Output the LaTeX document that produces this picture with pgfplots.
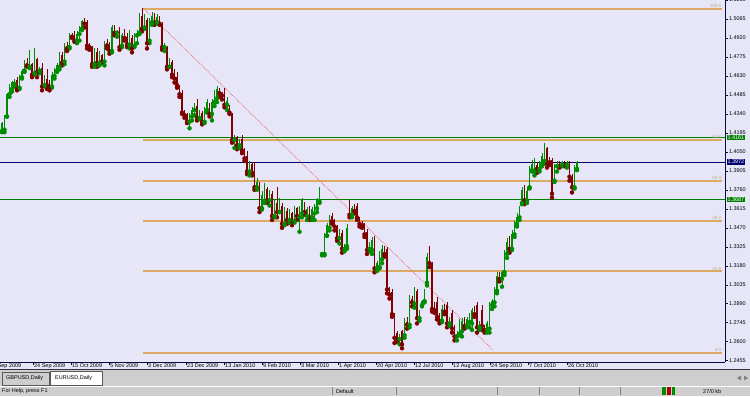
\documentclass[border=0pt]{standalone}
\usepackage{pgfplots}
\pgfplotsset{compat=1.18}
\usepackage{pgfplotstable}
\usepackage{fontspec}
\setmainfont{Liberation Sans}
\pgfdeclarelayer{background}
\pgfsetlayers{background,main}

\definecolor{chartbg}{RGB}{230,230,248}
\definecolor{bull}{RGB}{0,140,0}
\definecolor{bear}{RGB}{128,0,0}
\definecolor{fib}{RGB}{218,170,98}
\definecolor{fibtxt}{RGB}{196,166,116}
\definecolor{lvlgreen}{RGB}{0,128,0}
\definecolor{navyline}{RGB}{0,0,110}
\definecolor{axisc}{RGB}{10,10,60}
\definecolor{barbg}{RGB}{206,206,206}
\definecolor{trend}{RGB}{230,90,90}

\pgfplotstableread{
o h l c
1.421 1.428 1.420 1.427
1.422 1.433 1.420 1.432
1.432 1.450 1.432 1.449
1.449 1.457 1.447 1.455
1.453 1.459 1.451 1.458
1.457 1.461 1.455 1.459
1.460 1.462 1.452 1.453
1.454 1.464 1.453 1.462
1.462 1.468 1.461 1.467
1.467 1.475 1.466 1.474
1.473 1.477 1.470 1.471
1.470 1.483 1.469 1.480
1.472 1.473 1.462 1.464
1.465 1.484 1.464 1.478
1.476 1.477 1.462 1.466
1.467 1.470 1.465 1.468
1.469 1.473 1.452 1.455
1.456 1.464 1.455 1.460
1.461 1.468 1.453 1.456
1.456 1.460 1.452 1.454
1.455 1.466 1.454 1.464
1.463 1.469 1.461 1.467
1.467 1.473 1.466 1.471
1.470 1.481 1.468 1.479
1.479 1.481 1.471 1.473
1.474 1.488 1.472 1.486
1.486 1.489 1.482 1.484
1.485 1.496 1.484 1.494
1.494 1.496 1.492 1.493
1.494 1.497 1.489 1.490
1.490 1.497 1.488 1.495
1.495 1.501 1.490 1.499
1.499 1.506 1.498 1.505
1.505 1.507 1.500 1.503
1.504 1.506 1.484 1.486
1.486 1.488 1.483 1.485
1.485 1.486 1.470 1.472
1.472 1.484 1.470 1.481
1.481 1.484 1.470 1.473
1.473 1.482 1.471 1.479
1.479 1.480 1.473 1.474
1.474 1.490 1.471 1.488
1.488 1.491 1.484 1.486
1.486 1.489 1.480 1.482
1.482 1.502 1.481 1.500
1.500 1.502 1.494 1.496
1.496 1.498 1.493 1.497
1.498 1.500 1.483 1.485
1.486 1.496 1.485 1.494
1.494 1.499 1.490 1.492
1.493 1.496 1.485 1.487
1.487 1.498 1.484 1.495
1.492 1.494 1.481 1.484
1.486 1.496 1.485 1.494
1.494 1.498 1.488 1.496
1.496 1.511 1.495 1.509
1.509 1.515 1.497 1.499
1.500 1.510 1.499 1.508
1.506 1.507 1.484 1.488
1.490 1.507 1.488 1.504
1.504 1.512 1.502 1.509
1.509 1.511 1.502 1.504
1.504 1.510 1.503 1.508
1.508 1.509 1.502 1.503
1.503 1.504 1.483 1.485
1.485 1.488 1.482 1.486
1.485 1.486 1.468 1.470
1.470 1.477 1.470 1.474
1.474 1.475 1.462 1.464
1.464 1.468 1.458 1.461
1.462 1.466 1.454 1.456
1.455 1.456 1.447 1.449
1.450 1.452 1.434 1.435
1.435 1.437 1.431 1.433
1.434 1.435 1.427 1.428
1.428 1.435 1.423 1.433
1.432 1.439 1.429 1.437
1.437 1.442 1.433 1.440
1.440 1.445 1.429 1.431
1.431 1.437 1.430 1.435
1.435 1.436 1.426 1.428
1.428 1.439 1.427 1.437
1.437 1.445 1.435 1.443
1.441 1.442 1.432 1.434
1.434 1.445 1.429 1.443
1.443 1.452 1.440 1.450
1.446 1.455 1.443 1.453
1.453 1.454 1.447 1.450
1.450 1.451 1.445 1.448
1.450 1.454 1.439 1.441
1.441 1.447 1.437 1.444
1.440 1.441 1.434 1.435
1.434 1.435 1.412 1.414
1.414 1.418 1.408 1.416
1.416 1.417 1.407 1.410
1.410 1.415 1.408 1.413
1.415 1.418 1.404 1.406
1.406 1.408 1.398 1.400
1.402 1.406 1.388 1.390
1.390 1.398 1.387 1.396
1.396 1.397 1.387 1.389
1.392 1.397 1.376 1.378
1.378 1.385 1.376 1.382
1.381 1.382 1.359 1.362
1.362 1.375 1.361 1.372
1.367 1.381 1.366 1.378
1.377 1.378 1.366 1.368
1.368 1.376 1.364 1.373
1.373 1.375 1.353 1.356
1.356 1.368 1.355 1.365
1.366 1.378 1.355 1.359
1.359 1.370 1.359 1.367
1.364 1.366 1.347 1.350
1.350 1.363 1.349 1.360
1.360 1.362 1.350 1.353
1.353 1.361 1.351 1.358
1.358 1.359 1.349 1.352
1.352 1.364 1.351 1.362
1.362 1.363 1.353 1.356
1.355 1.364 1.344 1.362
1.358 1.370 1.355 1.368
1.366 1.367 1.357 1.359
1.356 1.363 1.353 1.361
1.361 1.364 1.353 1.355
1.355 1.363 1.353 1.361
1.358 1.365 1.353 1.362
1.362 1.370 1.359 1.368
1.367 1.378 1.366 1.376
1.327 1.328 1.326 1.327
1.327 1.343 1.326 1.340
1.341 1.351 1.341 1.349
1.347 1.357 1.345 1.355
1.356 1.358 1.350 1.352
1.352 1.354 1.345 1.348
1.348 1.349 1.337 1.339
1.339 1.346 1.335 1.343
1.343 1.345 1.328 1.331
1.331 1.335 1.329 1.333
1.333 1.350 1.331 1.347
1.367 1.368 1.355 1.357
1.357 1.364 1.355 1.362
1.362 1.365 1.358 1.360
1.364 1.366 1.353 1.355
1.354 1.355 1.348 1.350
1.350 1.352 1.347 1.349
1.350 1.351 1.340 1.342
1.344 1.346 1.327 1.330
1.331 1.336 1.329 1.334
1.330 1.340 1.327 1.338
1.339 1.341 1.313 1.316
1.316 1.322 1.314 1.320
1.317 1.329 1.316 1.327
1.323 1.334 1.320 1.331
1.331 1.333 1.325 1.327
1.331 1.332 1.297 1.300
1.300 1.302 1.293 1.296
1.298 1.300 1.279 1.281
1.281 1.282 1.259 1.263
1.267 1.268 1.260 1.262
1.262 1.266 1.258 1.264
1.268 1.269 1.255 1.258
1.265 1.278 1.263 1.275
1.275 1.279 1.270 1.273
1.273 1.296 1.271 1.293
1.293 1.295 1.287 1.290
1.289 1.302 1.286 1.300
1.299 1.300 1.274 1.278
1.278 1.284 1.276 1.282
1.288 1.292 1.287 1.291
1.291 1.300 1.290 1.298
1.305 1.328 1.303 1.325
1.330 1.333 1.317 1.320
1.320 1.321 1.283 1.285
1.286 1.290 1.282 1.284
1.290 1.294 1.277 1.279
1.279 1.282 1.274 1.276
1.276 1.288 1.275 1.285
1.285 1.289 1.281 1.283
1.288 1.290 1.271 1.274
1.274 1.279 1.272 1.277
1.282 1.284 1.267 1.270
1.270 1.273 1.261 1.264
1.264 1.268 1.261 1.266
1.266 1.277 1.265 1.275
1.268 1.278 1.264 1.276
1.276 1.279 1.270 1.272
1.272 1.279 1.271 1.277
1.275 1.282 1.271 1.280
1.274 1.286 1.269 1.284
1.284 1.287 1.279 1.281
1.288 1.290 1.267 1.271
1.271 1.276 1.269 1.274
1.284 1.288 1.269 1.272
1.272 1.273 1.267 1.269
1.269 1.276 1.267 1.274
1.270 1.290 1.267 1.288
1.288 1.293 1.285 1.291
1.290 1.302 1.287 1.300
1.299 1.313 1.297 1.310
1.310 1.313 1.306 1.308
1.308 1.315 1.302 1.313
1.313 1.330 1.311 1.327
1.327 1.339 1.324 1.336
1.336 1.341 1.328 1.331
1.331 1.345 1.330 1.342
1.342 1.352 1.340 1.350
1.350 1.358 1.348 1.355
1.355 1.364 1.353 1.362
1.366 1.378 1.365 1.376
1.376 1.380 1.365 1.368
1.368 1.378 1.366 1.375
1.378 1.394 1.377 1.391
1.391 1.399 1.390 1.396
1.390 1.400 1.387 1.397
1.395 1.397 1.389 1.392
1.392 1.398 1.390 1.396
1.396 1.404 1.394 1.402
1.398 1.412 1.396 1.409
1.408 1.409 1.393 1.396
1.400 1.401 1.395 1.397
1.399 1.400 1.370 1.373
1.383 1.396 1.382 1.394
1.394 1.398 1.390 1.396
1.396 1.398 1.393 1.394
1.395 1.398 1.394 1.397
1.397 1.398 1.394 1.395
1.395 1.398 1.393 1.397
1.397 1.398 1.383 1.386
1.386 1.388 1.374 1.378
1.378 1.395 1.377 1.392
1.392 1.398 1.391 1.397
}\candles

\newcommand{\axfont}{\fontsize{5.5}{6}\selectfont}

\begin{document}
\begin{tikzpicture}[x=1bp,y=1bp]
\begin{pgfinterruptboundingbox}
\begin{axis}[
  scale only axis, width=725bp, height=362bp,
  xmin=-0.8, xmax=289.2, ymin=1.2445, ymax=1.5210,
  clip=false,
  axis x line*=bottom, axis y line*=right,
  axis line style={-, draw=axisc, line width=0.8bp},
  tick align=outside, major tick length=3bp,
  tick style={draw=axisc, line width=0.5bp},
  ytick={1.5065,1.4920,1.4775,1.4630,1.4485,1.4340,1.4195,1.4050,1.3905,1.3760,1.3615,1.3470,1.3325,1.3180,1.3035,1.2890,1.2745,1.2600,1.2455},
  yticklabels={1.5065,1.4920,1.4775,1.4630,1.4485,1.4340,1.4195,1.4050,1.3905,1.3760,1.3615,1.3470,1.3325,1.3180,1.3035,1.2890,1.2745,1.2600,1.2455},
  yticklabel style={font=\axfont, anchor=west, inner sep=0.8bp},
  xtick={12.4,27.6,42.8,58,73.6,88.8,104,119.2,134.4,149.6,164.8,180,195.2,210.4,226},
  xticklabels={24 Sep 2009,15 Oct 2009,5 Nov 2009,3 Dec 2009,23 Dec 2009,13 Jan 2010,9 Feb 2010,3 Mar 2010,1 Apr 2010,20 Apr 2010,12 Jul 2010,12 Aug 2010,24 Sep 2010,7 Oct 2010,26 Oct 2010},
  xticklabel style={font=\axfont, anchor=north west, inner sep=0.5bp, xshift=0.5bp, yshift=2bp},
]
% fibonacci levels
\addplot[fib, line width=2bp] coordinates {(56.4,1.5145) (288,1.5145)};
\addplot[fib, line width=2bp] coordinates {(56.4,1.4141) (288,1.4141)};
\addplot[fib, line width=2bp] coordinates {(56.4,1.3831) (288,1.3831)};
\addplot[fib, line width=2bp] coordinates {(56.4,1.3521) (288,1.3521)};
\addplot[fib, line width=2bp] coordinates {(56.4,1.3137) (288,1.3137)};
\addplot[fib, line width=2bp] coordinates {(56.4,1.2517) (288,1.2517)};
% horizontal levels
\addplot[lvlgreen, line width=0.7bp] coordinates {(-0.8,1.4161) (289.2,1.4161)};
\addplot[navyline, line width=0.7bp] coordinates {(-0.8,1.3972) (289.2,1.3972)};
\addplot[lvlgreen, line width=0.7bp] coordinates {(-0.8,1.3687) (289.2,1.3687)};
% trend line
\addplot[trend, densely dotted, line width=0.7bp] coordinates {(57.2,1.5134) (196.4,1.2536)};
% candles: wicks
\addplot[only marks, mark=none, bear, forget plot, error bars/.cd, y dir=plus, y explicit, error mark=none,
  error bar style={line width=0.6bp, draw=bear, solid}]
  table[x expr={\thisrow{c}<\thisrow{o} ? \coordindex : nan}, y=l, y error expr={\thisrow{h}-\thisrow{l}}] {\candles};
\addplot[only marks, mark=none, bull, forget plot, error bars/.cd, y dir=plus, y explicit, error mark=none,
  error bar style={line width=0.6bp, draw=bull, solid}]
  table[x expr={\thisrow{c}<\thisrow{o} ? nan : \coordindex}, y=l, y error expr={\thisrow{h}-\thisrow{l}}] {\candles};
% candles: bodies
\addplot[only marks, mark=none, bear, forget plot, error bars/.cd, y dir=plus, y explicit, error mark=none,
  error bar style={line width=1.7bp, draw=bear, solid}]
  table[x expr={\thisrow{c}<\thisrow{o} ? \coordindex : nan}, y expr={min(\thisrow{o},\thisrow{c})}, y error expr={abs(\thisrow{c}-\thisrow{o})}] {\candles};
\addplot[only marks, mark=none, bull, forget plot, error bars/.cd, y dir=plus, y explicit, error mark=none,
  error bar style={line width=1.7bp, draw=bull, solid}]
  table[x expr={\thisrow{c}<\thisrow{o} ? nan : \coordindex}, y expr={min(\thisrow{o},\thisrow{c})}, y error expr={abs(\thisrow{c}-\thisrow{o})}] {\candles};
% fib labels
\node[anchor=south east, font=\fontsize{4.5}{5}\selectfont, text=fibtxt, inner sep=0.6bp, yshift=0.5bp] at (axis cs:288,1.5145) {100.0};
\node[anchor=south east, font=\fontsize{4.5}{5}\selectfont, text=fibtxt, inner sep=0.6bp, yshift=0.5bp] at (axis cs:288,1.4141) {61.8};
\node[anchor=south east, font=\fontsize{4.5}{5}\selectfont, text=fibtxt, inner sep=0.6bp, yshift=0.5bp] at (axis cs:288,1.3831) {50.0};
\node[anchor=south east, font=\fontsize{4.5}{5}\selectfont, text=fibtxt, inner sep=0.6bp, yshift=0.5bp] at (axis cs:288,1.3521) {38.2};
\node[anchor=south east, font=\fontsize{4.5}{5}\selectfont, text=fibtxt, inner sep=0.6bp, yshift=0.5bp] at (axis cs:288,1.3137) {23.6};
\node[anchor=south east, font=\fontsize{4.5}{5}\selectfont, text=fibtxt, inner sep=0.6bp, yshift=0.5bp] at (axis cs:288,1.2517) {0.0};
% price boxes on the right scale
\node[fill=lvlgreen, text=white, anchor=west, font=\axfont, inner sep=0.8bp, xshift=1.5bp] at (axis cs:289.2,1.4161) {1.4161};
\node[fill=navyline, text=white, anchor=west, font=\axfont, inner sep=0.8bp, xshift=1.5bp] at (axis cs:289.2,1.3972) {1.3972};
\node[fill=lvlgreen, text=white, anchor=west, font=\axfont, inner sep=0.8bp, xshift=1.5bp] at (axis cs:289.2,1.3687) {1.3687};
\coordinate (AO) at (rel axis cs:0,0);
\end{axis}
\end{pgfinterruptboundingbox}
\begin{scope}[shift={(AO)}, yshift=-34bp]
\useasboundingbox (0,0) rectangle (750,396);
\begin{pgfonlayer}{background}
\fill[chartbg] (0,27) rectangle (750,396);
\fill[barbg] (0,0) rectangle (750,26);
\draw[black!80, line width=1bp] (0,26.5) -- (750,26.5);
\draw[gray!70!black, line width=0.4bp, fill=barbg] (2,11) rectangle (49,24);
\draw[gray!70!black, line width=0.4bp, fill=white] (50,11) rectangle (102,25);
\draw[white, line width=0.4bp] (0,10.3) -- (750,10.3);
\end{pgfonlayer}
% tabs
\node[font=\axfont, anchor=west, inner sep=0] at (6,17.5) {GBPUSD,Daily};
\node[font=\axfont, anchor=west, inner sep=0] at (55,17.5) {EURUSD,Daily};
\fill[gray] (737,18) -- (741,20.5) -- (741,15.5) -- cycle;
\fill[gray] (748,18) -- (744,20.5) -- (744,15.5) -- cycle;
% status bar
\node[font=\axfont, anchor=west, inner sep=0] at (2,4.5) {For Help, press F1};
\node[font=\axfont, anchor=west, inner sep=0] at (336,4.5) {Default};
\node[font=\axfont, anchor=west, inner sep=0] at (703,4.5) {27/0 kb};
\foreach \xx in {332,396,497,539,579,620}{\draw[gray, line width=0.5bp] (\xx,1) -- (\xx,9.5);}
\fill[green!55!black] (662,1.5) rectangle (666,9);
\fill[red!70!black] (667,1.5) rectangle (671,9);
\fill[green!55!black] (672,1.5) rectangle (675,9);
% partly hidden labels at the edges
\node[font=\axfont, anchor=west, inner sep=0.8bp] at (728,396) {1.5210};
\draw[axisc, line width=0.5bp] (725,396) -- (728,396);
\node[font=\axfont, anchor=north west, inner sep=0.5bp] at (-7.5,33) {4 Sep 2009};
\end{scope}
\end{tikzpicture}
\end{document}
